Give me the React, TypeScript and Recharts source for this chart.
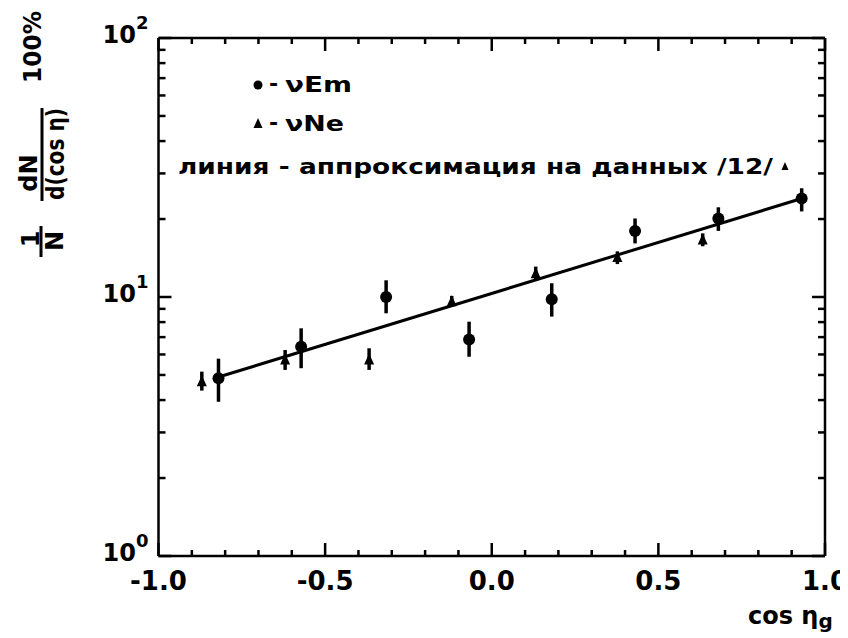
import React from 'react';
import { ComposedChart, Scatter, XAxis, YAxis, ErrorBar } from 'recharts';

// νEm data (circles)
const emX = [-0.82, -0.572, -0.317, -0.068, 0.18, 0.43, 0.68, 0.93];
const emY = [4.86, 6.43, 10.0, 6.86, 9.8, 18.0, 20.1, 24.0];
const emLo = [3.94, 5.31, 8.65, 5.88, 8.4, 16.1, 18.0, 21.4];
const emHi = [5.78, 7.57, 11.6, 8.03, 11.3, 20.1, 22.2, 26.3];

// νNe data (triangles)
const neX = [-0.87, -0.62, -0.368, -0.12, 0.132, 0.377, 0.633];
const neY = [4.71, 5.71, 5.71, 9.59, 12.3, 14.2, 16.6];
const neLo = [4.35, 5.23, 5.23, 9.2, 11.6, 13.4, 15.7];
const neHi = [5.15, 6.24, 6.34, 10.1, 13.1, 15.0, 17.6];

// approximation line
const fitX = [-0.815, 0.93];
const fitY = [4.93, 24.0];

// ticks
const xAllTicks = [-1, -0.9, -0.8, -0.7, -0.6, -0.5, -0.4, -0.3, -0.2, -0.1, 0, 0.1, 0.2, 0.3, 0.4, 0.5, 0.6, 0.7, 0.8, 0.9, 1];
const xMajorTicks = [-1, -0.5, 0, 0.5, 1];
const xTickLabels = ['-1.0', '-0.5', '0.0', '0.5', '1.0'];
const yAllTicks = [1, 2, 3, 4, 5, 6, 7, 8, 9, 10, 20, 30, 40, 50, 60, 70, 80, 90, 100];
const yMajorTicks = [1, 10, 100];
const yTickExp = ['0', '1', '2'];

const FONT = '"DejaVu Sans", sans-serif';
const FW = 'bold';

const emData = emX.map((x, i) => ({ x, y: emY[i], err: [emY[i] - emLo[i], emHi[i] - emY[i]] }));
const neData = neX.map((x, i) => ({ x, y: neY[i], err: [neY[i] - neLo[i], neHi[i] - neY[i]] }));
const fitData = fitX.map((x, i) => ({ x, y: fitY[i] }));

const majorIdx = (arr: number[], v: number) => arr.findIndex((m) => Math.abs(m - v) < 1e-6);

const BottomTick = (p: any) => {
  const { x, y, payload } = p;
  const i = majorIdx(xMajorTicks, payload.value);
  const len = i >= 0 ? 13 : 6;
  return (
    <g>
      <line x1={x} x2={x} y1={y} y2={y - len} stroke="#000" strokeWidth={2.5} />
      {i >= 0 && (
        <text x={x} y={y + 34} textAnchor="middle" fontSize={26} fontWeight={FW} fontFamily={FONT} fill="#000">
          {xTickLabels[i]}
        </text>
      )}
    </g>
  );
};

const TopTick = (p: any) => {
  const { x, y, payload } = p;
  const i = majorIdx(xMajorTicks, payload.value);
  const len = i >= 0 ? 13 : 6;
  return <line x1={x} x2={x} y1={y} y2={y + len} stroke="#000" strokeWidth={2.5} />;
};

const LeftTick = (p: any) => {
  const { x, y, payload } = p;
  const i = majorIdx(yMajorTicks, payload.value);
  const len = i >= 0 ? 13 : 7;
  return (
    <g>
      <line x1={x} x2={x + len} y1={y} y2={y} stroke="#000" strokeWidth={2.5} />
      {i >= 0 && (
        <text x={x - 10} y={y + 5} textAnchor="end" fontSize={24} fontWeight={FW} fontFamily={FONT} fill="#000">
          <tspan>10</tspan>
          <tspan dy={-14} fontSize={18}>{yTickExp[i]}</tspan>
        </text>
      )}
    </g>
  );
};

const RightTick = (p: any) => {
  const { x, y, payload } = p;
  const i = majorIdx(yMajorTicks, payload.value);
  const len = i >= 0 ? 13 : 7;
  return <line x1={x} x2={x - len} y1={y} y2={y} stroke="#000" strokeWidth={2.5} />;
};

const CircleShape = (p: any) => {
  const { cx, cy } = p;
  if (cx == null || cy == null) return <g />;
  return <circle cx={cx} cy={cy} r={6} fill="#000" />;
};

const TriShape = (p: any) => {
  const { cx, cy } = p;
  if (cx == null || cy == null) return <g />;
  return (
    <polygon points={`${cx},${cy - 6.5} ${cx + 5},${cy + 4.5} ${cx - 5},${cy + 4.5}`} fill="#000" />
  );
};

const NoShape = () => <g />;

const rot = (cx: number, cy: number) => `rotate(-90 ${cx} ${cy})`;

const YLabel = () => (
  <g fontFamily={FONT} fill="#000" fontSize={24} fontWeight={FW}>
    <text x={25} y={39} transform={rot(25, 39)} textAnchor="middle" dominantBaseline="central" textLength={72} lengthAdjust="spacingAndGlyphs">100%</text>
    <text x={20.5} y={165} transform={rot(20.5, 165)} textAnchor="middle" dominantBaseline="central">dN</text>
    <line x1={34} x2={34} y1={100} y2={193} stroke="#000" strokeWidth={3} />
    <text x={48} y={146} transform={rot(48, 146)} textAnchor="middle" dominantBaseline="central" textLength={92} lengthAdjust="spacingAndGlyphs">d(cos η)</text>
    <text x={23} y={231} transform={rot(23, 231)} textAnchor="middle" dominantBaseline="central">1</text>
    <line x1={33} x2={33} y1={218} y2={249} stroke="#000" strokeWidth={3} />
    <text x={47} y={233} transform={rot(47, 233)} textAnchor="middle" dominantBaseline="central">N</text>
  </g>
);

const LegendBlock = () => (
  <g fontFamily={FONT} fill="#000" fontSize={22} fontWeight={FW}>
    <circle cx={250} cy={77} r={4.5} fill="#000" />
    <text x={261} y={83}>-</text>
    <text x={277} y={84} textLength={67} lengthAdjust="spacingAndGlyphs">νEm</text>
    <polygon points="250,110 254.5,120 245.5,120" fill="#000" />
    <text x={261} y={122}>-</text>
    <text x={277} y={123} textLength={59} lengthAdjust="spacingAndGlyphs">νNe</text>
    <text x={170} y={166} textLength={595} lengthAdjust="spacingAndGlyphs">линия - аппроксимация на данных /12/</text>
    <polygon points="777,154 780.5,162 773.5,162" fill="#000" />
  </g>
);

const XLabel = () => (
  <text x={740} y={616} fontFamily={FONT} fontSize={24} fontWeight={FW} fill="#000">
    <tspan>cos η</tspan>
    <tspan dy={4} fontSize={20}>g</tspan>
  </text>
);

export default function App() {
  return (
    <ComposedChart
      width={840}
      height={630}
      margin={{ top: 29, right: 22, bottom: 81, left: 149.5 }}
      style={{ background: '#fff' }}
    >
      <XAxis
        xAxisId="b"
        dataKey="x"
        type="number"
        domain={[-1, 1]}
        allowDataOverflow
        ticks={xAllTicks}
        interval={0}
        height={1}
        tickSize={0}
        tickMargin={0}
        tick={BottomTick}
        axisLine={{ stroke: '#000', strokeWidth: 2.5 }}
        tickLine={false}
      />
      <XAxis
        xAxisId="t"
        orientation="top"
        dataKey="x"
        type="number"
        domain={[-1, 1]}
        allowDataOverflow
        ticks={xAllTicks}
        interval={0}
        height={1}
        tickSize={0}
        tickMargin={0}
        tick={TopTick}
        axisLine={{ stroke: '#000', strokeWidth: 2.5 }}
        tickLine={false}
      />
      <YAxis
        yAxisId="l"
        dataKey="y"
        type="number"
        scale="log"
        domain={[1, 100]}
        allowDataOverflow
        ticks={yAllTicks}
        interval={0}
        width={1}
        tickSize={0}
        tickMargin={0}
        tick={LeftTick}
        axisLine={{ stroke: '#000', strokeWidth: 2.5 }}
        tickLine={false}
      />
      <YAxis
        yAxisId="r"
        orientation="right"
        dataKey="y"
        type="number"
        scale="log"
        domain={[1, 100]}
        allowDataOverflow
        ticks={yAllTicks}
        interval={0}
        width={1}
        tickSize={0}
        tickMargin={0}
        tick={RightTick}
        axisLine={{ stroke: '#000', strokeWidth: 2.5 }}
        tickLine={false}
      />
      <Scatter
        data={fitData}
        xAxisId="b"
        yAxisId="l"
        line={{ stroke: '#000', strokeWidth: 3 }}
        shape={NoShape}
        isAnimationActive={false}
      />
      <Scatter data={emData} xAxisId="b" yAxisId="l" shape={CircleShape} isAnimationActive={false}>
        <ErrorBar dataKey="err" direction="y" width={0} stroke="#000" strokeWidth={3.5} />
      </Scatter>
      <Scatter data={neData} xAxisId="b" yAxisId="l" shape={TriShape} isAnimationActive={false}>
        <ErrorBar dataKey="err" direction="y" width={0} stroke="#000" strokeWidth={3.5} />
      </Scatter>
      <YLabel />
      <LegendBlock />
      <XLabel />
    </ComposedChart>
  );
}
